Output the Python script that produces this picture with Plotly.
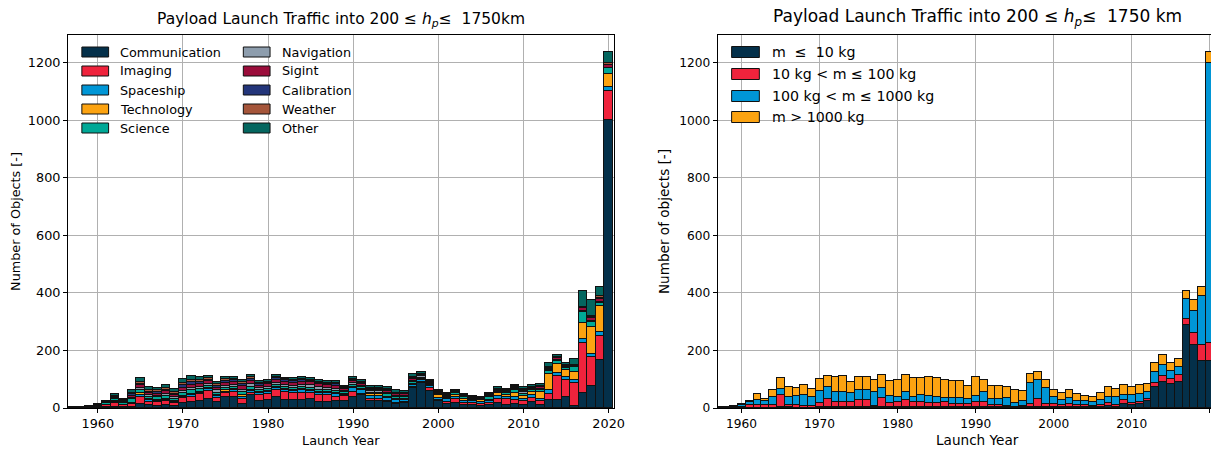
import plotly.graph_objects as go

years = list(range(1957, 2021))

# ---- Left panel: payload mission type ----
mission_names = ["Communication", "Imaging", "Spaceship", "Technology", "Science",
                 "Navigation", "Sigint", "Calibration", "Weather", "Other"]
mission_colors = ["#04304a", "#ef233c", "#0096d6", "#fca311", "#00a896",
                  "#8d9dad", "#9b0d3b", "#23357a", "#a5553a", "#04665f"]

communication = [0,0,0,2,2,3,3,5,15,10, 8,10,8,17,21,24,32,21,38,38,
                 15,44,23,29,38,27,27,27,32,21, 21,23,23,40,44,23,25,20,15,17,
                 68,87,58,23,14,18,10,9,8,10, 18,12,15,12,20,10,29,29,38,8,
                 52,77,168,1003]
imaging = [0,0,1,3,7,16,6,8,25,12, 12,14,10,17,18,23,28,15,13,17,
           18,8,23,20,25,29,25,25,20,25, 23,17,18,15,6,10,8,5,4,3,
           6,4,13,5,6,12,8,8,6,8, 15,18,14,12,15,15,21,81,60,79,
           173,102,83,100]
spaceship = [0,0,0,0,1,1,1,2,6,5, 4,4,3,5,5,5,5,5,6,6,
             6,8,6,6,7,7,8,9,8,7, 7,8,5,14,12,10,10,10,9,9,
             6,7,6,8,10,10,8,6,7,6, 8,10,10,8,10,8,12,12,10,12,
             14,9,12,14]
technology = [0,1,1,1,2,3,2,3,5,3, 3,4,3,4,5,4,4,4,4,4,
              5,4,4,4,4,4,4,4,4,4, 4,4,3,5,4,4,4,5,4,4,
              3,3,3,10,6,6,6,5,6,4, 10,6,14,10,9,22,55,32,25,27,
              58,95,90,46]
science = [2,4,4,3,4,8,6,12,12,8, 10,10,8,8,12,10,8,8,9,8,
           10,10,6,6,6,6,6,7,7,7, 6,7,5,6,6,6,6,7,6,6,
           7,5,5,4,4,5,5,4,3,12, 6,5,8,8,7,8,10,10,6,17,
           38,15,12,18]
navigation = [0,0,0,1,2,3,3,4,6,6, 5,6,5,8,8,8,8,8,8,8,
              10,8,7,7,8,8,8,9,9,8, 8,8,6,7,6,5,5,5,4,4,
              5,4,3,2,2,2,2,2,2,2, 3,3,4,4,4,4,4,4,3,2,
              4,3,5,2]
sigint = [0,0,0,0,1,4,3,8,10,8, 8,10,8,10,12,10,8,10,10,9,
          12,12,9,10,11,10,10,11,10,10, 10,10,7,8,7,6,5,6,5,4,
          6,4,3,3,3,3,3,3,2,3, 4,4,5,5,4,5,5,5,3,2,
          8,12,10,8]
calibration = [0,0,0,0,1,2,2,6,6,5, 6,6,5,10,10,8,6,7,7,6,
               8,8,5,5,5,5,5,5,5,5, 4,5,3,3,3,3,3,3,3,2,
               2,2,1,1,1,1,1,1,1,1, 1,1,2,2,2,2,2,2,1,1,
               3,3,4,3]
weather = [0,0,1,2,1,2,1,4,6,6, 5,6,5,8,8,6,5,6,6,6,
           7,6,5,5,5,4,4,5,4,4, 4,5,3,3,4,3,3,4,3,3,
           4,3,2,2,2,1,2,1,1,2, 2,2,3,4,3,3,3,3,2,1,
           2,5,5,5]
other = [0,0,1,2,3,6,4,11,12,10, 10,11,11,14,13,9,7,7,8,7,
         8,8,5,5,6,5,6,6,6,6, 6,6,3,7,7,7,6,8,8,6,
         10,6,3,4,4,4,4,4,4,5, 6,5,6,7,6,8,15,7,10,21,
         54,54,31,38]
mission_values = [communication, imaging, spaceship, technology, science,
                  navigation, sigint, calibration, weather, other]

# ---- Right panel: payload mass class ----
mass_names = ["m  \u2264  10 kg", "10 kg < m \u2264 100 kg",
              "100 kg < m \u2264 1000 kg", "m > 1000 kg"]
mass_colors = ["#04304a", "#ef233c", "#0096d6", "#fca311"]
mass_le10 = [0,0,0,1,1,1,1,1,3,2, 1,1,1,2,2,2,2,2,2,2,
             2,2,2,2,2,2,2,2,2,2, 2,2,2,3,3,2,2,2,3,2,
             3,4,4,5,4,5,4,4,3,4, 8,5,15,9,13,25,73,90,83,90,
             289,218,162,162]
mass_10_100 = [1,3,4,4,8,10,9,11,43,8, 9,7,5,14,30,18,20,18,27,25,
               6,34,14,18,27,18,20,16,15,20, 12,13,13,17,18,8,8,6,2,4,
               11,27,10,8,5,8,5,5,4,6, 8,6,14,8,8,8,14,23,19,25,
               20,42,58,64]
mass_100_1000 = [1,2,3,7,11,17,13,28,20,29, 33,37,31,44,40,37,32,33,34,37,
                 47,33,27,18,27,20,23,24,20,14, 21,20,15,23,35,22,21,27,14,17,
                 73,66,55,24,19,21,16,15,13,17, 24,29,17,29,29,23,37,37,25,27,
                 70,78,168,975]
mass_gt1000 = [0,0,1,2,4,20,8,23,37,34, 28,36,29,41,40,50,57,38,46,45,
               44,47,50,59,59,65,58,66,68,61, 58,58,46,65,43,45,44,38,42,35,
               30,28,28,25,24,28,24,19,20,26, 33,26,35,26,30,29,32,35,31,28,
               27,37,32,36]
mass_values = [mass_le10, mass_10_100, mass_100_1000, mass_gt1000]

y_ticks = [0, 200, 400, 600, 800, 1000, 1200]
x_ticks = [1960, 1970, 1980, 1990, 2000, 2010, 2020]
x_ticktext_right = ["1960", "1970", "1980", "1990", "2000", "2010", ""]

# ---- geometry (window pixels; body margin removed in post_script) ----
W, H = 1222, 452
L_LEFT, L_RIGHT = 68, 619
R_LEFT, R_RIGHT = 724, 1222
TOP, BOTTOM = 35, 408
ML, MR, MT, MB = L_LEFT, W - R_RIGHT, TOP, H - BOTTOM
PW = W - ML - MR
PH = H - MT - MB
def px(x):
    return (x - ML) / PW
def py(y):
    return (H - MB - y) / PH

FONT = "DejaVu Sans"
FS = 12.8
FS_R = 12.2
R_CENTER = 986   # centre of the (clipped) right axes
fig = go.Figure()

for name, col, vals in zip(mission_names, mission_colors, mission_values):
    fig.add_trace(go.Bar(x=years, y=vals, name=name, marker_color=col,
                         marker_line=dict(color="#111111", width=1),
                         width=1, xaxis="x", yaxis="y", showlegend=False))
for name, col, vals in zip(mass_names, mass_colors, mass_values):
    fig.add_trace(go.Bar(x=years, y=vals, name=name, marker_color=col,
                         marker_line=dict(color="#111111", width=1),
                         width=1, xaxis="x2", yaxis="y2", showlegend=False))

def axis_common(fs):
    return dict(showgrid=True, gridcolor="#b0b0b0", gridwidth=1,
                showline=True, linecolor="black", linewidth=1,
                ticks="outside", ticklen=4, tickcolor="black",
                tickfont=dict(family=FONT, size=fs, color="black"),
                zeroline=False)

fig.update_layout(
    width=W, height=H, barmode="stack", bargap=0,
    plot_bgcolor="white", paper_bgcolor="white",
    margin=dict(l=ML, r=MR, t=MT, b=MB, pad=0),
    font=dict(family=FONT, size=FS, color="black"),
    xaxis=dict(axis_common(FS), domain=[0, px(L_RIGHT)], range=[1956.5, 2020.6],
               tickvals=x_ticks, mirror=True, anchor="y",
               title=dict(text="Launch Year", standoff=5,
                          font=dict(family=FONT, size=FS))),
    yaxis=dict(axis_common(FS), domain=[0, 1], range=[0, 1297],
               tickvals=y_ticks, mirror=True, anchor="x",
               title=dict(text="Number of Objects [-]", standoff=4,
                          font=dict(family=FONT, size=FS))),
    xaxis2=dict(axis_common(FS_R), domain=[px(R_LEFT), 1], range=[1956.94, 2020.17],
                tickvals=x_ticks, ticktext=x_ticktext_right, mirror=True, anchor="y2"),
    yaxis2=dict(axis_common(FS_R), domain=[0, 1], range=[0, 1297],
                tickvals=y_ticks, mirror=False, anchor="x2",
                title=dict(text="Number of objects [-]", standoff=6,
                           font=dict(family=FONT, size=13.6))),
)

annotations = [
    dict(text="Payload Launch Traffic into 200 \u2264 <i>h<sub>p</sub></i>\u2264  1750km",
         x=px(343.5), y=py(20), xref="paper", yref="paper", showarrow=False,
         xanchor="center", yanchor="middle", font=dict(family=FONT, size=15.5)),
    dict(text="Payload Launch Traffic into 200 \u2264 <i>h<sub>p</sub></i>\u2264  1750 km",
         x=px(R_CENTER), y=py(18), xref="paper", yref="paper", showarrow=False,
         xanchor="center", yanchor="middle", font=dict(family=FONT, size=17)),
    dict(text="Launch Year", x=px(R_CENTER), y=py(440), xref="paper", yref="paper",
         showarrow=False, xanchor="center", yanchor="middle",
         font=dict(family=FONT, size=13.6)),
]
shapes = []

left_cols = [(82, 118), (245, 282)]
left_rows = [52, 71, 90, 109, 128]
for i, (name, col) in enumerate(zip(mission_names, mission_colors)):
    c, r = divmod(i, 5)
    sx, tx = left_cols[c]
    yc = left_rows[r]
    shapes.append(dict(type="rect", xref="paper", yref="paper",
                       x0=px(sx), x1=px(sx + 27), y0=py(yc + 5), y1=py(yc - 5),
                       fillcolor=col, line=dict(color="#111111", width=1)))
    annotations.append(dict(text=name, x=px(tx), y=py(yc), xref="paper", yref="paper",
                            showarrow=False, xanchor="left", yanchor="middle",
                            font=dict(family=FONT, size=FS)))

right_rows = [52, 74, 96, 117]
for i, (name, col) in enumerate(zip(mass_names, mass_colors)):
    yc = right_rows[i]
    shapes.append(dict(type="rect", xref="paper", yref="paper",
                       x0=px(738), x1=px(766), y0=py(yc + 5.5), y1=py(yc - 5.5),
                       fillcolor=col, line=dict(color="#111111", width=1)))
    annotations.append(dict(text=name, x=px(777), y=py(yc), xref="paper", yref="paper",
                            showarrow=False, xanchor="left", yanchor="middle",
                            font=dict(family=FONT, size=14.2)))

fig.update_layout(annotations=annotations, shapes=shapes)
fig.write_html("out.html", config={"displayModeBar": False},
               post_script="document.body.style.margin='0';document.body.style.overflow='hidden';")
